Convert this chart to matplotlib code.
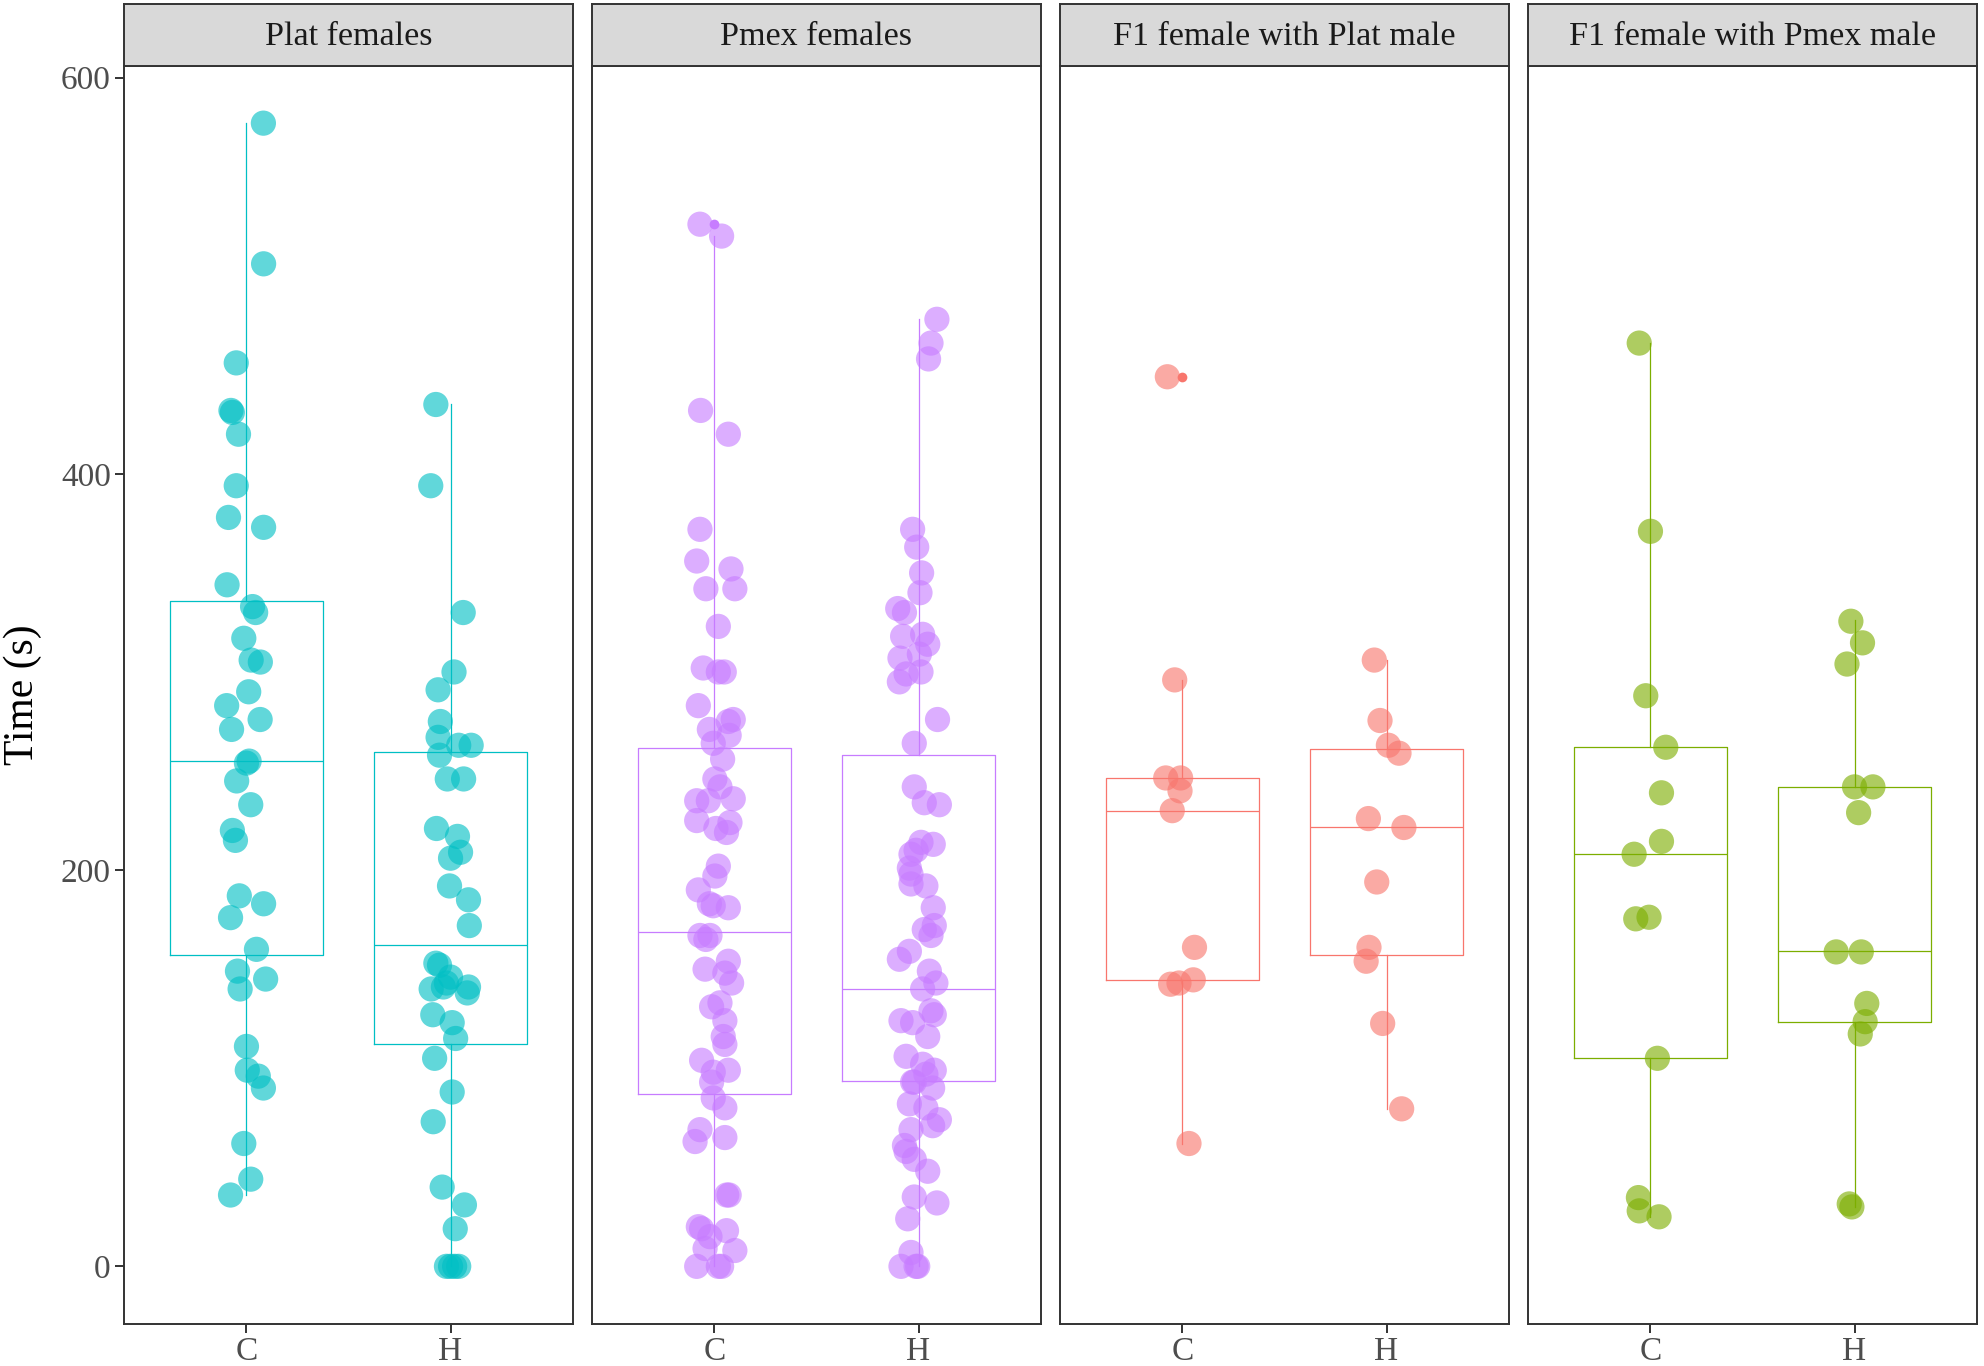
import matplotlib.pyplot as plt
import numpy as np

plt.rcParams['font.family'] = ['Liberation Serif', 'DejaVu Serif']

panels = ['Plat females', 'Pmex females', 'F1 female with Plat male', 'F1 female with Pmex male']
colors = ['#00BFC4', '#C77CFF', '#F8766D', '#7CAE00']
treatments = ['C', 'H']

# --- Plat females ---
plat_c = [577, 506, 456, 432, 431, 420, 394, 378, 373, 344, 333, 330, 317, 306, 305, 290,
          283, 276, 271, 255, 254, 245, 233, 220, 215, 187, 183, 176, 160, 149, 145, 140,
          111, 99, 96, 90, 62, 44, 36]
plat_c_dx = [0.083, 0.084, -0.05, -0.076, -0.069, -0.039, -0.05, -0.088, 0.084, -0.095, 0.03,
             0.045, -0.013, 0.023, 0.068, 0.011, -0.097, 0.067, -0.073, 0.013, 0.0, -0.048,
             0.021, -0.069, -0.054, -0.035, 0.084, -0.078, 0.049, -0.044, 0.094, -0.031, 0.0,
             0.004, 0.058, 0.083, -0.013, 0.021, -0.078]
plat_h = [435, 394, 330, 300, 291, 275, 267, 263, 263, 258, 246, 246, 221, 217, 209, 206, 192,
          185, 172, 153, 152, 146, 143, 141, 141, 138, 140, 127, 123, 115, 105, 88, 73, 40,
          31, 19, 0, 0, 0, 0]
plat_h_dx = [-0.072, -0.097, 0.062, 0.017, -0.061, -0.05, -0.061, 0.04, 0.101, -0.054, -0.016,
             0.064, -0.069, 0.034, 0.049, 0.0, -0.005, 0.088, 0.092, -0.072, -0.054, 0.0, -0.02,
             -0.035, 0.088, 0.082, -0.095, -0.087, 0.008, 0.025, -0.078, 0.008, -0.085, -0.041,
             0.068, 0.023, -0.02, 0.0, 0.02, 0.04]

# --- Pmex females ---
pmex_c = [526, 520, 432, 420, 372, 356, 352, 342, 342, 323, 302, 300, 300, 283, 276, 275, 271,
          268, 264, 256, 246, 242, 235, 235, 236, 225, 224, 221, 219, 202, 197, 190, 183, 182,
          181, 167, 167, 165, 154, 150, 148, 143, 133, 131, 124, 116, 112, 104, 99, 98, 93, 85,
          80, 69, 65, 63, 36, 36, 20, 19, 15, 18, 9, 8, 0, 0, 0]
pmex_c_dx = [-0.071, 0.035, -0.068, 0.068, -0.071, -0.087, 0.081, -0.042, 0.1, 0.019, -0.055,
             0.019, 0.048, -0.079, 0.092, 0.068, -0.025, 0.072, -0.006, 0.04, 0.002, 0.027,
             -0.087, -0.03, 0.092, -0.087, 0.076, 0.007, 0.059, 0.019, 0.002, -0.079, -0.025,
             -0.006, 0.068, -0.071, -0.022, -0.042, 0.068, -0.046, 0.051, 0.084, 0.027, -0.014,
             0.051, 0.043, 0.051, -0.063, 0.068, -0.006, -0.014, -0.006, 0.051, -0.071, 0.051,
             -0.095, 0.072, 0.06, -0.079, -0.063, -0.022, 0.059, -0.046, 0.1, -0.087, 0.035, 0.019]
pmex_h = [478, 466, 458, 372, 363, 350, 340, 332, 330, 318, 319, 314, 307, 309, 300, 299, 295,
          276, 264, 242, 234, 233, 214, 213, 210, 208, 201, 198, 193, 192, 181, 172, 170, 167,
          159, 155, 149, 143, 140, 129, 127, 124, 123, 116, 106, 102, 99, 97, 93, 93, 90, 82,
          80, 74, 71, 69, 61, 58, 54, 48, 35, 32, 24, 7, 0, 0, 0]
pmex_h_dx = [0.09, 0.061, 0.049, -0.029, -0.009, 0.015, 0.007, -0.102, -0.069, -0.078, 0.02,
             0.045, -0.091, 0.004, 0.012, -0.061, -0.094, 0.093, -0.021, -0.021, 0.028, 0.102,
             0.012, 0.072, -0.012, -0.037, -0.045, -0.037, -0.037, 0.036, 0.072, 0.077, 0.028,
             0.061, -0.045, -0.094, 0.053, 0.085, 0.02, 0.061, 0.077, -0.086, -0.029, 0.045,
             -0.061, 0.02, 0.077, 0.036, -0.029, -0.021, 0.069, -0.045, 0.036, 0.102, 0.069,
             -0.037, -0.069, -0.061, -0.021, 0.045, -0.021, 0.09, -0.053, -0.037, -0.086,
             -0.012, -0.004]

# --- F1 female with Plat male ---
f1plat_c = [449, 296, 246.5, 246.5, 240, 230, 161, 144.6, 142.4, 143, 62]
f1plat_c_dx = [-0.074, -0.038, -0.082, -0.009, -0.012, -0.05, 0.059, 0.053, -0.058, -0.017, 0.032]
f1plat_h = [306, 275.5, 263, 259, 226, 221.5, 194, 161, 154, 122.6, 79.5]
f1plat_h_dx = [-0.06, -0.032, 0.009, 0.061, -0.089, 0.085, -0.048, -0.086, -0.1, -0.019, 0.074]

# --- F1 female with Pmex male ---
f1pmex_c = [466, 371, 288, 262, 239, 214.5, 208, 175.4, 176.2, 105, 34.7, 28, 25]
f1pmex_c_dx = [-0.055, 0.0, -0.023, 0.075, 0.054, 0.054, -0.08, -0.072, -0.007, 0.034, -0.059,
               -0.055, 0.042]
f1pmex_h = [325.6, 314.7, 304, 242, 242, 229, 158.7, 158.7, 132.7, 123.5, 117.3, 31.5, 30]
f1pmex_h_dx = [-0.018, 0.039, -0.037, 0.0, 0.09, 0.02, -0.09, 0.033, 0.06, 0.052, 0.028, -0.026,
               -0.013]

# box stats: [whisker low, q1, median, q3, whisker high]
plat_box = [[36, 157, 255, 336, 577], [0, 112.4, 162, 259.5, 435]]
pmex_box = [[0, 87, 169, 261.5, 520], [0, 93.3, 140, 258, 478]]
f1plat_box = [[62, 144.6, 230, 246.5, 296], [79.5, 157, 221.5, 261, 306]]
f1pmex_box = [[25, 105, 208, 262, 466], [30, 123.5, 159, 242, 326]]
plat_out = [[], []]
pmex_out = [[526], []]
f1plat_out = [[449], []]
f1pmex_out = [[], []]

points = [
    [(plat_c, plat_c_dx), (plat_h, plat_h_dx)],
    [(pmex_c, pmex_c_dx), (pmex_h, pmex_h_dx)],
    [(f1plat_c, f1plat_c_dx), (f1plat_h, f1plat_h_dx)],
    [(f1pmex_c, f1pmex_c_dx), (f1pmex_h, f1pmex_h_dx)],
]
boxes = [plat_box, pmex_box, f1plat_box, f1pmex_box]
outliers = [plat_out, pmex_out, f1plat_out, f1pmex_out]

W, H = 1984, 1366
fig = plt.figure(figsize=(W / 100, H / 100), dpi=100)

edge = '#333333'
left0, pw, step = 124 / W, 449 / W, 468 / W
bot, ph = 1 - 1323.5 / H, (1323.5 - 66) / H
sbot, sh = 1 - 66 / H, 62 / H

for i, name in enumerate(panels):
    col = colors[i]
    ax = fig.add_axes([left0 + i * step, bot, pw, ph])
    stats = []
    for j in range(2):
        lo, q1, med, q3, hi = boxes[i][j]
        stats.append(dict(whislo=lo, q1=q1, med=med, q3=q3, whishi=hi, fliers=outliers[i][j]))
    ax.bxp(stats, positions=[1, 2], widths=0.75, showcaps=False,
           boxprops=dict(color=col, linewidth=0.9),
           whiskerprops=dict(color=col, linewidth=0.9),
           medianprops=dict(color=col, linewidth=0.9),
           flierprops=dict(marker='o', markerfacecolor=col, markeredgecolor='none',
                           markersize=7, zorder=2.5))
    for j in range(2):
        vals, dx = points[i][j]
        x = (j + 1) + np.array(dx)
        ax.scatter(x, vals, s=330, color=col, alpha=0.62, edgecolors='none', zorder=3)

    ax.set_xlim(0.4, 2.6)
    ax.set_ylim(-28.85, 605.85)
    ax.set_xticks([1, 2])
    ax.set_xticklabels(treatments)
    ax.set_yticks([0, 200, 400, 600])
    for s in ax.spines.values():
        s.set_color(edge)
        s.set_linewidth(1.4)
    ax.tick_params(axis='both', length=6.5, width=1.4, color=edge,
                   labelsize=24, labelcolor='#4D4D4D', pad=3)
    if i > 0:
        ax.tick_params(axis='y', left=False, labelleft=False)

    sax = fig.add_axes([left0 + i * step, sbot, pw, sh])
    sax.set_facecolor('#D9D9D9')
    sax.set_xticks([])
    sax.set_yticks([])
    for s in sax.spines.values():
        s.set_color(edge)
        s.set_linewidth(1.4)
    sax.text(0.5, 0.47, name, ha='center', va='center', fontsize=24.5,
             color='#1A1A1A', transform=sax.transAxes)

fig.text(23 / W, bot + ph / 2, 'Time (s)', rotation=90, ha='center', va='center',
         fontsize=30, color='black')

fig.savefig('out.png', dpi=100)
